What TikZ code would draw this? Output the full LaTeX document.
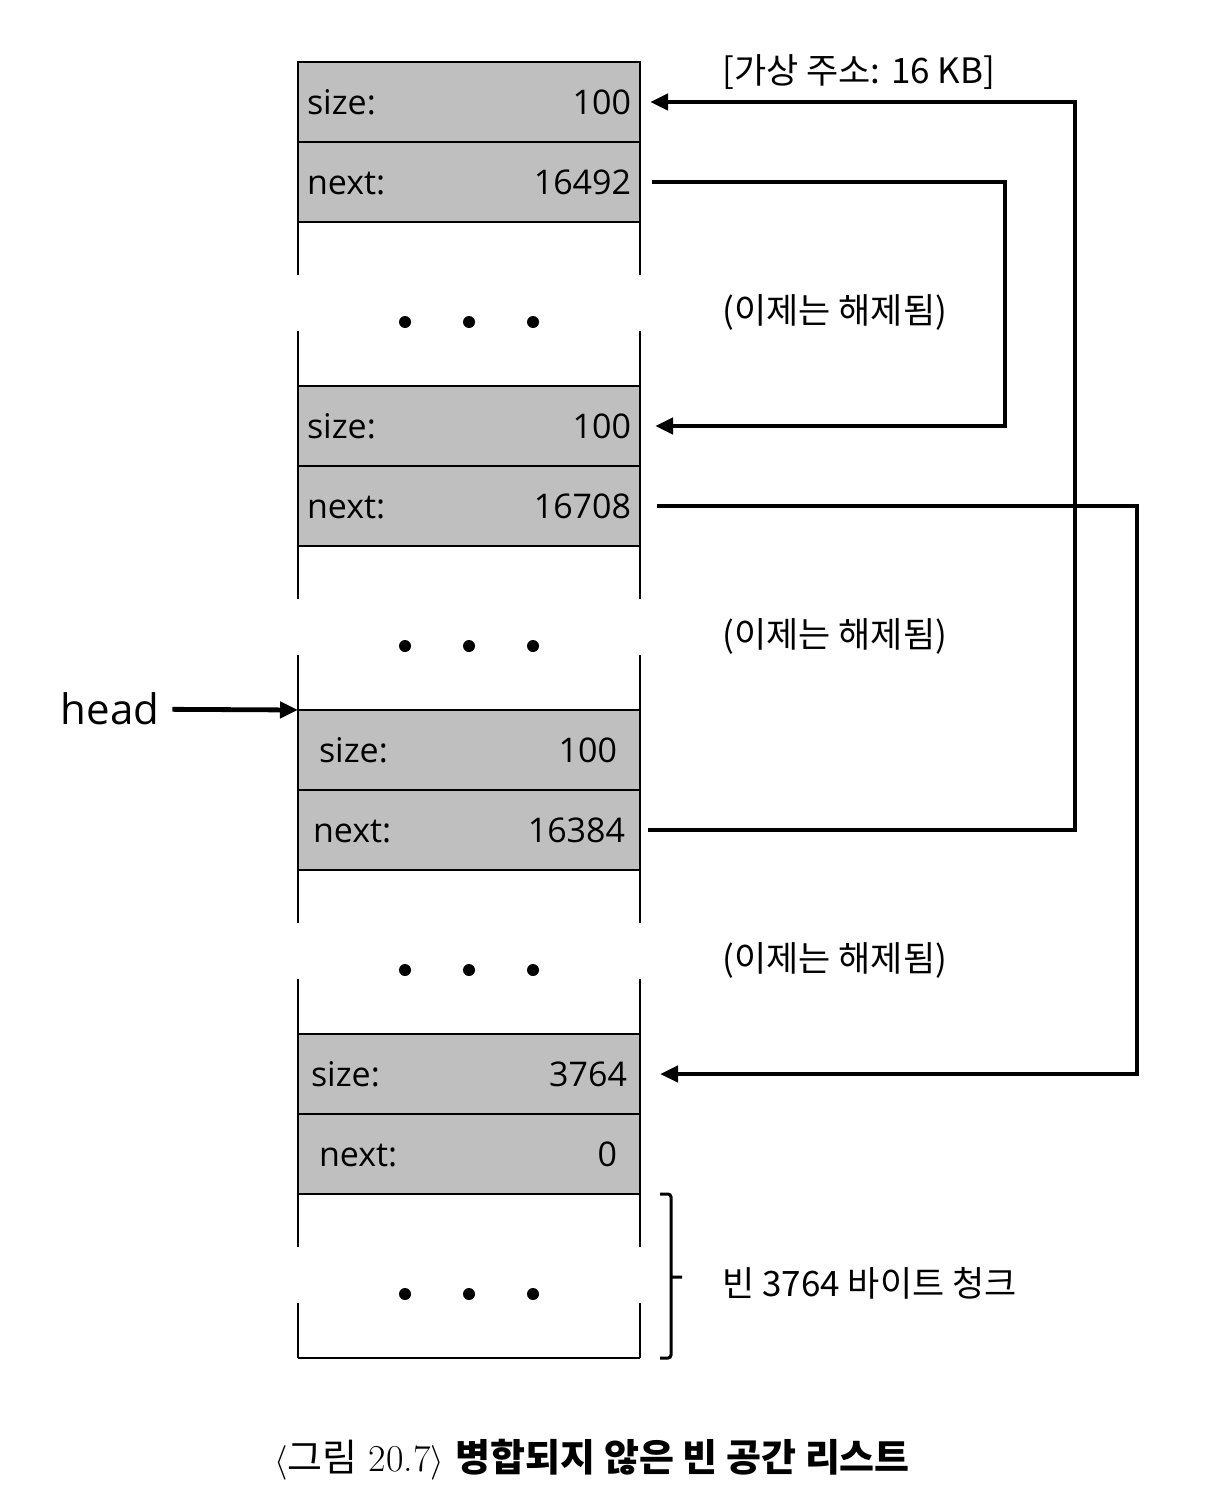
\documentclass[tikz,border=0pt]{standalone}
\usepackage{fontspec}
\newfontfamily\osans{Open Sans}
\newfontfamily\kr{Noto Sans CJK KR}
\usetikzlibrary{arrows.meta,positioning}
\tikzset{cell/.style={draw=black, line width=1pt, fill=black!25, minimum height=40pt, text width=162pt, inner xsep=4.5pt, inner ysep=0pt, outer sep=0pt, font=\osans\fontsize{17}{20}\selectfont}, free/.style={minimum height=82pt, minimum width=171pt, inner sep=0pt, outer sep=0pt}, side/.style={line width=1pt}, ptr/.style={-{Triangle[length=9pt,width=8pt]}, line width=2.4pt}, note/.style={anchor=west, inner sep=0pt, font=\kr\fontsize{17.5}{21}\selectfont}}

\begin{document}
\begin{tikzpicture}[x=0.5pt,y=-0.5pt,node distance=0pt]
\useasboundingbox (0,0) rectangle (1224,1504);
% memory column
\node[cell] (size1) at (469,102) {size:\hfill 100};
\node[cell,below=of size1] (next1) {next:\hfill 16492};
\node[free,below=of next1] (free1) {};
\node[cell,below=of free1] (size2) {size:\hfill 100};
\node[cell,below=of size2] (next2) {next:\hfill 16708};
\node[free,below=of next2] (free2) {};
\node[cell,below=of free2] (size3) {\kern6pt size:\hfill 100\kern7pt};
\node[cell,below=of size3] (next3) {\kern3pt next:\hfill 16384\kern3pt};
\node[free,below=of next3] (free3) {};
\node[cell,below=of free3] (size4) {\kern2pt size:\hfill 3764\kern2pt};
\node[cell,below=of size4] (next4) {\kern6pt next:\hfill 0\kern7pt};
\node[free,below=of next4] (free4) {};
\foreach \f in {free1,free2,free3,free4}{
  \draw[side] (\f.north west) -- ++(0,53) (\f.north east) -- ++(0,53)
    (\f.south west) -- ++(0,-55) (\f.south east) -- ++(0,-55);
  \foreach \dx in {-32pt,0pt,32pt}
    \fill ([xshift=\dx,yshift=-50pt]\f.north) circle (3pt);
}
\draw[side] (free4.south west) -- (free4.south east);
% labels
\node[note] (vaddr) at (722,72) {[가상 주소: 16 KB]};
\node[note] (freed1) at (722,312) {(이제는 해제됨)};
\node[note] (freed2) at (722,636) {(이제는 해제됨)};
\node[note] (freed3) at (722,960) {(이제는 해제됨)};
\node[note] (chunk) at (722,1283) {빈 3764 바이트 청크};
\node[font=\osans\fontsize{21}{24}\selectfont] (head) at (110,709) {head};
\node[font=\fontsize{19}{23}\selectfont] (cap) at (592,1460) {$\langle${\kr 그림} 20.7$\rangle$ {\kr\bfseries 병합되지 않은 빈 공간 리스트}};
% pointers
\draw[ptr,shorten <=3pt] (head) -- (size3.north west);
\draw[ptr] ([xshift=4pt]next3.east) -| ([xshift=217.5pt]size1.east) -- ([xshift=5pt]size1.east);
\draw[ptr] ([xshift=6pt]next1.east) -| ([xshift=182.5pt]size2.east) -- ([xshift=7.5pt]size2.east);
\draw[ptr] ([xshift=8.5pt]next2.east) -| ([xshift=248.5pt]size4.east) -- ([xshift=10pt]size4.east);
\draw[line width=1.5pt,rounded corners=1.5pt] ([xshift=10pt]free4.north east) -- ++(11,0) -- ([xshift=15.5pt]free4.south east) -- ++(-11,0)
  ([xshift=15.5pt,yshift=-41.5pt]free4.north east) -- ++(11,0);
\end{tikzpicture}
\end{document}
